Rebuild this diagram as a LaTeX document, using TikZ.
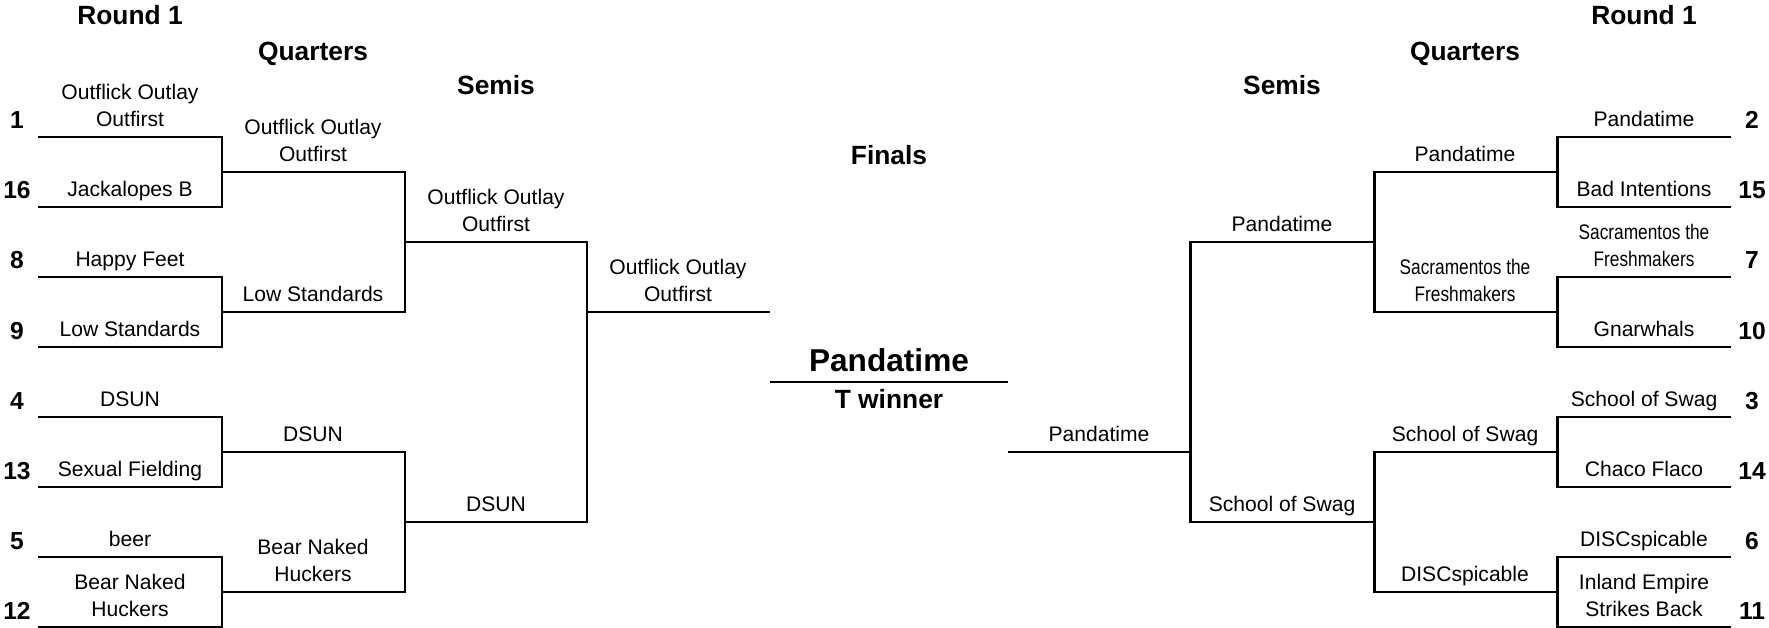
\documentclass[tikz,border=0pt]{standalone}
\usepackage{fontspec}
\setmainfont{Liberation Sans}
\usepackage{graphicx}
\usetikzlibrary{positioning}

\newcommand{\narrow}[1]{\scalebox{0.82}[1]{#1}}

\begin{document}
\begin{tikzpicture}[x=0.02cm, y=-0.02cm, line width=1.7pt, line join=miter,
    team/.style={font=\fontsize{12}{15.4}\selectfont, align=center, anchor=south, inner sep=0pt, text depth=0pt},
    seed/.style={font=\fontsize{14}{16}\selectfont\bfseries, anchor=base, inner sep=0pt},
    roundtitle/.style={font=\fontsize{15}{18}\selectfont\bfseries, anchor=base, inner sep=0pt}]
    \useasboundingbox (0,0) rectangle (1769,628);

    % Round titles
    \node[roundtitle] (titleRL) at (130,25) {Round 1};
    \node[roundtitle] (titleQL) at (313,61) {Quarters};
    \node[roundtitle] (titleSL) at (496,95) {Semis};
    \node[roundtitle] (titleF) at (889,165) {Finals};
    \node[roundtitle] (titleSR) at (1282,95) {Semis};
    \node[roundtitle] (titleQR) at (1465,61) {Quarters};
    \node[roundtitle] (titleRR) at (1644,25) {Round 1};

    % Round 1 brackets
    \foreach \i in {0,...,3} {
        \pgfmathsetmacro\t{137+140*\i}
        \draw (38,\t) -- (222,\t) -- (222,\t+70) -- (38,\t+70);
        \draw (1731,\t) -- (1557,\t) -- (1557,\t+70) -- (1731,\t+70);
    }

    % Quarter brackets
    \foreach \j in {0,1} {
        \pgfmathsetmacro\t{172+280*\j}
        \draw (222,\t) -- (405,\t) -- (405,\t+140) -- (222,\t+140);
        \draw (1557,\t) -- (1374,\t) -- (1374,\t+140) -- (1557,\t+140);
    }

    % Semi brackets and finals
    \draw (405,242) -- (587,242) -- (587,522) -- (405,522);
    \draw (1374,242) -- (1190,242) -- (1190,522) -- (1374,522);
    \draw (587,312) -- (770,312);
    \draw (1008,452) -- (1190,452);
    \draw (770,382) -- (1008,382);

    % Left side teams
    \foreach \y/\s/\team [count=\k] in {137/1/{Outflick Outlay\\Outfirst}, 207/16/{Jackalopes B},
        277/8/{Happy Feet}, 347/9/{Low Standards}, 417/4/{DSUN}, 487/13/{Sexual Fielding},
        557/5/{beer}, 627/12/{Bear Naked\\Huckers}} {
        \node[seed] (seedL\k) at (17,\y-8) {\s};
        \node[team] (roundL\k) at (130,\y-9) {\team};
    }
    \foreach \y/\team [count=\k] in {172/{Outflick Outlay\\Outfirst}, 312/{Low Standards},
        452/{DSUN}, 592/{Bear Naked\\Huckers}} {
        \node[team] (quarterL\k) at (313,\y-9) {\team};
    }
    \node[team] (semiL1) at (496,233) {Outflick Outlay\\Outfirst};
    \node[team] (semiL2) at (496,513) {DSUN};
    \node[team] (finalL) at (678,303) {Outflick Outlay\\Outfirst};

    % Right side teams
    \foreach \y/\s/\team [count=\k] in {137/2/{Pandatime}, 207/15/{Bad Intentions},
        277/7/{\narrow{Sacramentos the}\\\narrow{Freshmakers}}, 347/10/{Gnarwhals},
        417/3/{School of Swag}, 487/14/{Chaco Flaco}, 557/6/{DISCspicable},
        627/11/{Inland Empire\\Strikes Back}} {
        \node[seed] (seedR\k) at (1752,\y-8) {\s};
        \node[team] (roundR\k) at (1644,\y-9) {\team};
    }
    \foreach \y/\team [count=\k] in {172/{Pandatime}, 312/{\narrow{Sacramentos the}\\\narrow{Freshmakers}},
        452/{School of Swag}, 592/{DISCspicable}} {
        \node[team] (quarterR\k) at (1465,\y-9) {\team};
    }
    \node[team] (semiR1) at (1282,233) {Pandatime};
    \node[team] (semiR2) at (1282,513) {School of Swag};
    \node[team] (finalR) at (1099,443) {Pandatime};

    % Champion
    \node[font=\fontsize{18}{21}\selectfont\bfseries, anchor=base, inner sep=0pt] (champ) at (889,372) {Pandatime};
    \node[roundtitle] (champTitle) at (889,408) {T winner};
\end{tikzpicture}
\end{document}
